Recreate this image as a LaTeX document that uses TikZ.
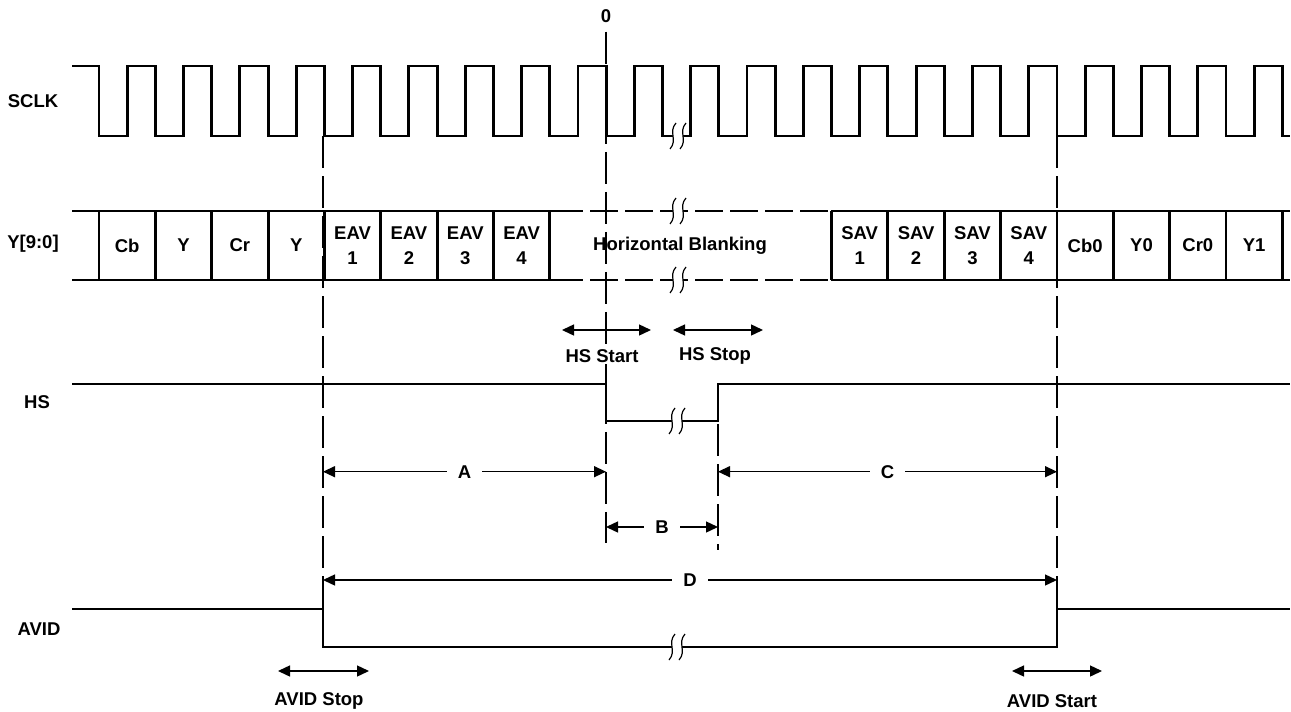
\documentclass[tikz,border=0pt]{standalone}
\usepackage{fontspec}
\setmainfont{Liberation Sans}
\usetikzlibrary{arrows.meta,calc}
\def\per{56.35}

\begin{document}
\begin{tikzpicture}[x=1pt,y=-1pt,
	sig/.style={line width=2.9pt,line join=miter},
	guide/.style={line width=1.4pt,dash pattern=on 32pt off 8pt},
	dim/.style={line width=1.4pt,{Triangle[length=12pt,width=11pt]}-{Triangle[length=12pt,width=11pt]}},
	lbl/.style={font=\fontsize{18.5}{25}\selectfont\bfseries,align=center,inner sep=1pt},
	gap/.style={lbl,fill=white,inner xsep=11pt},
	brk/.pic={
		\fill[white] (-2,-13) .. controls (-10,-4) and (0,4) .. (-8,13) -- (2,13) .. controls (10,4) and (0,-4) .. (8,-13) -- cycle;
		\draw[line width=1.2pt] (-2,-13) .. controls (-10,-4) and (0,4) .. (-8,13) (8,-13) .. controls (0,-4) and (10,4) .. (2,13);}]
	\useasboundingbox (0,0) rectangle (1291,712);
	\coordinate (tEav) at (323,0);
	\coordinate (tHsOn) at (606,0);
	\coordinate (tHsOff) at (718,0);
	\coordinate (tSav) at (1057,0);
	\coordinate (rA) at (0,471.7);
	\coordinate (rB) at (0,527);
	\coordinate (rD) at (0,580);
	
	\node[lbl] (sclk) at (33,101.5) {SCLK};
	\node[lbl] (ybus) at (33,244) {Y[9:0]};
	\node[lbl] (hs) at (37,402) {HS};
	\node[lbl] (avid) at (39,629) {AVID};
	\node[lbl] (zero) at (606,16) {0};
	
	\draw[guide] ([yshift=-8pt]zero.south) -- (tHsOn |- 0,543);
	\draw[guide] (tEav |- 0,136) -- (tEav |- 0,647);
	\draw[guide] (tHsOff |- 0,384) -- (tHsOff |- 0,550);
	\draw[guide] (tSav |- 0,136) -- (tSav |- 0,647);
	
	\draw[sig] (72,66) \foreach \k in {0,...,20} {-- ({99+\k*\per},66) -- ({99+\k*\per},136) -- ({99+(\k+0.5)*\per},136) -- ({99+(\k+0.5)*\per},66)} -- (1282.35,66) -- (1282.35,136) -- (1290,136);
	
	\draw[sig] (72,211) -- (583,211) (72,280) -- (583,280) (831,211) -- (1290,211) (831,280) -- (1290,280);
	\draw[sig,dash pattern=on 28pt off 7pt,dash phase=28pt] (583,211) -- (831,211) (583,280) -- (831,280);
	\foreach \k in {0,...,8,13,14,...,21} \draw[sig] ({99+\k*\per},211) -- ++(0,69);
	\foreach \t [count=\i from 0] in {Cb,Y,Cr,Y,EAV\\1,EAV\\2,EAV\\3,EAV\\4}
		\node[lbl] (w\i) at ({99+(\i+0.5)*\per},245.5) {\t};
	\foreach \t [count=\i from 13] in {SAV\\1,SAV\\2,SAV\\3,SAV\\4,Cb0,Y0,Cr0,Y1}
		\node[lbl] (w\i) at ({99+(\i+0.5)*\per},245.5) {\t};
	\node[lbl] (hblank) at (680,246) {Horizontal Blanking};
	
	\draw[sig] (72,384) -- (606,384) -- (606,421) -- (718,421) -- (718,384) -- (1290,384);
	\draw[sig] (72,609) -- (323,609) -- (323,647) -- (1057,647) -- (1057,609) -- (1290,609);
	
	\pic at (678,136) {brk};
	\pic at (678,211) {brk};
	\pic at (678,280) {brk};
	\pic at (677,421) {brk};
	\pic at (677,647) {brk};
	
	\node[lbl,fill=white] (hsstart) at (602,356) {HS Start};
	\node[lbl] (hsstop) at (715,356) {HS Stop};
	\node[lbl] (avidstop) at (319,701) {AVID Stop};
	\node[lbl] (avidstart) at (1052,701) {AVID Start};
	\draw[dim] (562,330) -- (651,330);
	\draw[dim] (673,330) -- (763,330);
	\draw[dim] (278,671) -- (369,671);
	\draw[dim] (1012,671) -- (1102,671);
	
	\draw[dim] (tEav |- rA) -- node[gap] (lA) {A} (tHsOn |- rA);
	\draw[dim] (tHsOn |- rB) -- node[gap] (lB) {B} (tHsOff |- rB);
	\draw[dim] (tHsOff |- rA) -- node[gap] (lC) {C} (tSav |- rA);
	\draw[dim] (tEav |- rD) -- node[gap] (lD) {D} (tSav |- rD);
\end{tikzpicture}
\end{document}
